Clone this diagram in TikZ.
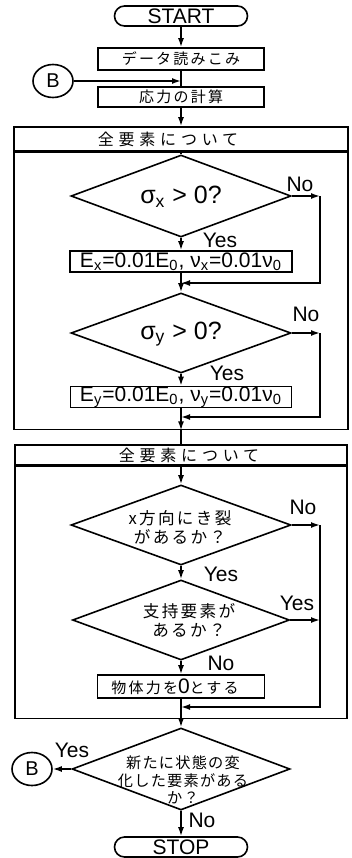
\documentclass[tikz,border=0pt]{standalone}
\usepackage{fontspec}
\setmainfont{Liberation Sans}
\newfontfamily\jp{Noto Sans CJK JP}
\usetikzlibrary{shapes.geometric,shapes.misc,arrows.meta}

\tikzset{
  >={Latex[length=4.5pt,width=3pt]},
  term/.style={draw, rounded rectangle, minimum width=66.5pt, minimum height=10pt, inner sep=0pt, font=\fontsize{10.5}{12}\selectfont},
  proc/.style={draw, rectangle, inner sep=0pt},
  decision/.style={draw, diamond, inner sep=0pt},
  conn/.style={draw, ellipse, minimum width=20pt, minimum height=16.5pt, inner sep=0pt, font=\fontsize{10}{12}\selectfont},
  frame/.style={draw, rectangle, inner sep=0pt},
  jtxt/.style={font=\jp\fontsize{7.5}{9.5}\selectfont\addfontfeature{LetterSpace=15}, align=center},
  dtxt/.style={font=\jp\fontsize{8.3}{9.6}\selectfont\addfontfeature{LetterSpace=14}, align=center},
  htxt/.style={font=\jp\fontsize{8}{9.5}\selectfont\addfontfeature{LetterSpace=30}},
  btxt/.style={font=\fontsize{12.5}{14}\selectfont},
  etxt/.style={font=\fontsize{10.5}{12}\selectfont},
  lbl/.style={font=\fontsize{10.5}{12}\selectfont, inner sep=0pt},
}

\begin{document}
\begin{tikzpicture}[x=0.5pt, y=-0.5pt, line width=0.8pt]
  \useasboundingbox (0,0) rectangle (352,858);

  % 開始・入力
  \node[term] (start) at (181,16) {START};
  \node[proc, minimum width=83pt, minimum height=11pt, jtxt] (read) at (181,59) {データ読みこみ};
  \node[proc, minimum width=83pt, minimum height=10pt, jtxt] (calc) at (181,97) {応力の計算};
  \node[conn] (b1) at (53,81) {B};
  \coordinate (j1) at (181,81);

  % 全要素について (1)
  \node[frame, minimum width=167pt, minimum height=12pt] (hd1) at (181,139) {};
  \node[frame, anchor=north, minimum width=167pt, minimum height=138.5pt] (fr1) at (hd1.south) {};
  \node[htxt] (h1t) at (168,139) {全要素について};

  \node[decision, minimum width=110pt, minimum height=41pt] (d1) at (181,196) {};
  \node[btxt] (d1t) at (181,197) {σ\textsubscript{x} > 0?};
  \node[proc, minimum width=111pt, minimum height=10.5pt, etxt] (ex) at (181,261.5)
    {E\textsubscript{x}=0.01E\textsubscript{0}, ν\textsubscript{x}=0.01ν\textsubscript{0}};
  \coordinate (r1) at (320,196);
  \coordinate (m1) at (181,283);

  \node[decision, minimum width=110pt, minimum height=40pt] (d2) at (181,333) {};
  \node[btxt] (d2t) at (181,334) {σ\textsubscript{y} > 0?};
  \node[proc, minimum width=110.5pt, minimum height=10pt, etxt] (ey) at (181,397)
    {E\textsubscript{y}=0.01E\textsubscript{0}, ν\textsubscript{y}=0.01ν\textsubscript{0}};
  \coordinate (r2) at (320,333);
  \coordinate (m2) at (181,417);

  % 全要素について (2)
  \node[frame, minimum width=166pt, minimum height=10pt] (hd2) at (181,455) {};
  \node[frame, anchor=north, minimum width=166pt, minimum height=126pt] (fr2) at (hd2.south) {};
  \node[htxt] (h2t) at (189,455) {全要素について};

  \node[decision, minimum width=110pt, minimum height=40pt] (d3) at (181,525) {};
  \node[dtxt] (d3t) at (180,527.5) {x方向にき裂\\があるか？};
  \coordinate (r3) at (320,525);

  \node[decision, minimum width=108.5pt, minimum height=40pt] (d4) at (181,620) {};
  \node[dtxt] (d4t) at (189,620.5) {支持要素が\\あるか？};
  \coordinate (r4) at (320,620);

  \node[proc, minimum width=83.5pt, minimum height=11.5pt, jtxt] (zero) at (181,686.5)
    {物体力を{\rmfamily\fontsize{10.5}{10}\selectfont 0}とする\hspace{6pt}};
  \coordinate (m3) at (181,707);

  % 終了判定
  \node[decision, minimum width=109pt, minimum height=41pt] (d5) at (181,769) {};
  \node[jtxt, font=\jp\fontsize{7.6}{8.8}\selectfont\addfontfeature{LetterSpace=8}] (d5t) at (183,780)
    {新たに状態の変\\化した要素がある\\か？};
  \node[conn] (b2) at (32,769) {B};
  \node[term] (stop) at (181,847) {STOP};

  % Yes / No
  \node[lbl] (no1) at (300,184) {No};
  \node[lbl] (yes1) at (220,240) {Yes};
  \node[lbl] (no2) at (306,314) {No};
  \node[lbl] (yes2) at (227,373) {Yes};
  \node[lbl] (no3) at (303,507) {No};
  \node[lbl] (yes3) at (221,574) {Yes};
  \node[lbl] (yes4) at (297,603) {Yes};
  \node[lbl] (no4) at (221,663) {No};
  \node[lbl] (yes5) at (72,750) {Yes};
  \node[lbl] (no5) at (202,820) {No};

  % 流れ線
  \draw[->] (start) -- (read);
  \draw (read) -- (calc);
  \draw[->] (b1) -- (j1);
  \draw[->] (calc) -- (hd1);
  \draw (hd1) -- (d1);
  \draw[->] (d1.east) -- (r1);
  \draw[->] (r1) |- (m1);
  \draw[->] (d1) -- (ex);
  \draw (ex) -- (m1);
  \draw[->] (m1) -- (d2);
  \draw[->] (d2.east) -- (r2);
  \draw[->] (r2) |- (m2);
  \draw[->] (d2) -- (ey);
  \draw (ey) -- (m2);
  \draw[->] (m2) -- (fr1.south);
  \draw (fr1.south) -- (hd2);
  \draw[->] (hd2) -- (d3);
  \draw[->] (d3.east) -- (r3);
  \draw[->] (d4.east) -- (r4);
  \draw[->] (r3) |- (m3);
  \draw[->] (d3) -- (d4);
  \draw[->] (d4) -- (zero);
  \draw (zero) -- (m3);
  \draw[->] (m3) -- (d5);
  \draw[->] (d5.west) -- (b2);
  \draw[->] (d5) -- (stop);
\end{tikzpicture}
\end{document}
